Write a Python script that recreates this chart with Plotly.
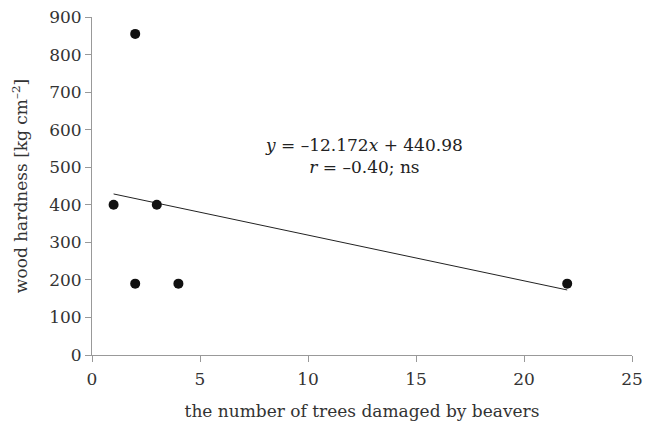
import plotly.graph_objects as go

trees = [1, 2, 2, 3, 4, 22]
hardness = [400, 855, 190, 400, 190, 190]
slope = -12.172
intercept = 440.98
fit_x = [min(trees), max(trees)]
fit_y = [slope * v + intercept for v in fit_x]
x_ticks = [0, 5, 10, 15, 20, 25]
y_ticks = [0, 100, 200, 300, 400, 500, 600, 700, 800, 900]

font = "DejaVu Serif"
fig = go.Figure()
fig.add_trace(go.Scatter(x=fit_x, y=fit_y, mode="lines",
                         line=dict(color="#222222", width=1), showlegend=False))
fig.add_trace(go.Scatter(x=trees, y=hardness, mode="markers",
                         marker=dict(color="#111111", size=10), showlegend=False))
fig.add_annotation(x=12.6, y=530, xref="x", yref="y",
                   text="<i>y</i> = –12.172<i>x</i> + 440.98<br><i>r</i> = –0.40; ns",
                   showarrow=False, font=dict(family=font, size=17, color="#222222"),
                   align="center")
axis_common = dict(showgrid=False, zeroline=False, showline=True, linecolor="#999999",
                   linewidth=1, ticks="outside", ticklen=6, tickcolor="#999999",
                   automargin=False,
                   tickfont=dict(family=font, size=17, color="#333333"))
fig.update_xaxes(range=[0, 25], tickvals=x_ticks, ticklabelstandoff=3, **axis_common,
                 title=dict(text="the number of trees damaged by beavers",
                            font=dict(family=font, size=17, color="#333333"), standoff=16))
fig.update_yaxes(range=[0, 900], tickvals=y_ticks, **axis_common,
                 title=dict(text="wood hardness [kg cm<sup>–2</sup>]",
                            font=dict(family=font, size=17, color="#333333"), standoff=17))
fig.update_layout(width=647, height=426, margin=dict(l=92, r=15, t=17, b=71),
                  plot_bgcolor="white", paper_bgcolor="white")
fig.write_html("out.html")
